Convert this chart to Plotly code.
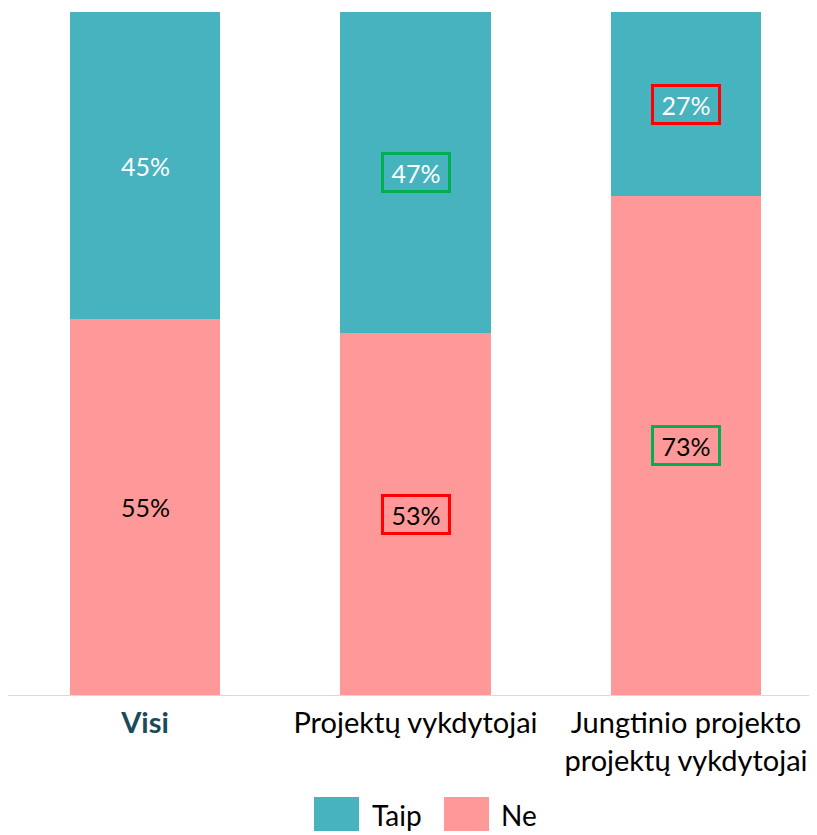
import plotly.graph_objects as go

categories = ["Visi", "Projektų vykdytojai", "Jungtinio projekto projektų vykdytojai"]
tick_labels = ["<b><span style='color:#1B4B5A'>Visi</span></b>",
               "Projektų vykdytojai",
               "Jungtinio projekto<br>projektų vykdytojai"]
ne_values = [55, 53, 73]
taip_values = [45, 47, 27]
ne_box = [None, "#FF0000", "#00B050"]
taip_box = [None, "#00B050", "#FF0000"]

TEAL = "#46B3BE"
PINK = "#FF9999"
FONT = "Lato"

x = list(range(len(categories)))

fig = go.Figure()
fig.add_trace(go.Bar(x=x, y=ne_values, name="Ne", marker_color=PINK, width=0.555,
                     marker_line_width=0, showlegend=False, hoverinfo="skip"))
fig.add_trace(go.Bar(x=x, y=taip_values, name="Taip", marker_color=TEAL, width=0.555,
                     marker_line_width=0, showlegend=False, hoverinfo="skip"))

annotations = []
for i in x:
    for val, base, box, color in [(ne_values[i], 0, ne_box[i], "#000000"),
                                  (taip_values[i], ne_values[i], taip_box[i], "#FFFFFF")]:
        a = dict(x=i, y=base + val / 2, xref="x", yref="y", text=f"{val}%",
                 showarrow=False, font=dict(family=FONT, size=25, color=color))
        if box:
            a.update(bordercolor=box, borderwidth=3, borderpad=1, width=62, height=33)
        annotations.append(a)

# custom legend (squares + labels)
legend_items = [("Taip", TEAL, 0.3782, 0.4339, 0.4475), ("Ne", PINK, 0.5389, 0.5946, 0.607)]
shapes = []
for name, col, x0, x1, tx in legend_items:
    shapes.append(dict(type="rect", xref="paper", yref="paper", x0=x0, x1=x1,
                       y0=-0.1991, y1=-0.1493, fillcolor=col, line_width=0))
    annotations.append(dict(x=tx, y=-0.176, xref="paper", yref="paper", text=name,
                            showarrow=False, xanchor="left", yanchor="middle",
                            font=dict(family=FONT, size=28, color="#000000")))

fig.update_layout(
    barmode="stack",
    width=809, height=827,
    margin=dict(l=0, r=0, t=4, b=140),
    paper_bgcolor="white", plot_bgcolor="white",
    font=dict(family=FONT, size=29, color="#000000"),
    annotations=annotations, shapes=shapes,
    showlegend=False,
)
fig.update_xaxes(range=[-0.5065, 2.4843], tickmode="array", tickvals=x, ticktext=tick_labels,
                 showline=True, linecolor="#D9D9D9", linewidth=1, ticks="", showgrid=False,
                 zeroline=False, ticklabelstandoff=2,
                 tickfont=dict(family=FONT, size=29, color="#000000"))
fig.update_yaxes(range=[0, 100], visible=False, showgrid=False, zeroline=False)

fig.write_html("out.html")
